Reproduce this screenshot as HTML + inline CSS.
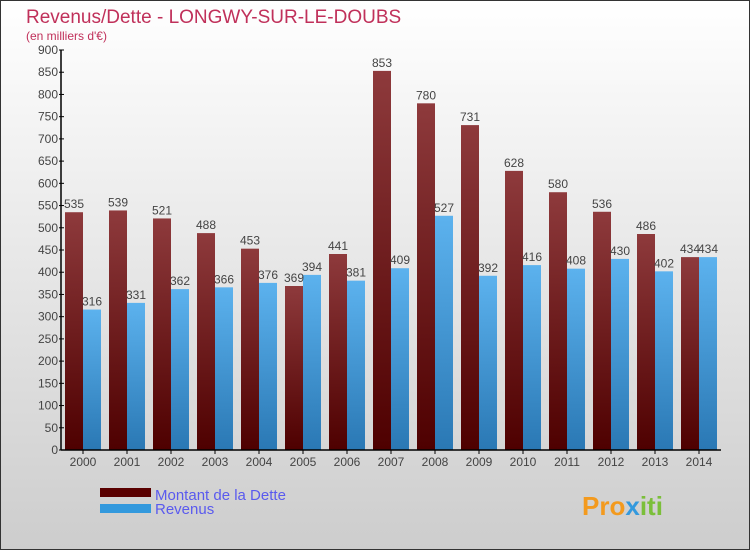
<!DOCTYPE html>
<html><head><meta charset="utf-8"><style>
body{margin:0;width:750px;height:550px;overflow:hidden;font-family:"Liberation Sans",sans-serif}
</style></head><body>
<svg id="c" width="750" height="550" xmlns="http://www.w3.org/2000/svg">
<defs>
<linearGradient id="bg" x1="0" y1="0" x2="0" y2="1"><stop offset="0" stop-color="#ffffff"/><stop offset="1" stop-color="#cdcdcd"/></linearGradient>
<linearGradient id="gd" x1="0" y1="0" x2="0" y2="1"><stop offset="0" stop-color="#8e3a3c"/><stop offset="1" stop-color="#4e0000"/></linearGradient>
<linearGradient id="gr" x1="0" y1="0" x2="0" y2="1"><stop offset="0" stop-color="#5cb2ee"/><stop offset="1" stop-color="#2a78b4"/></linearGradient>
</defs>
<rect x="0.5" y="0.5" width="749" height="549" fill="url(#bg)" stroke="#333"/>
<text x="26" y="23" font-size="19" fill="#c0305a">Revenus/Dette - LONGWY-SUR-LE-DOUBS</text>
<text x="26" y="40" font-size="12" fill="#c0305a">(en milliers d'€)</text>
<g id="plot"></g>
<g>
<rect x="100" y="488" width="51" height="9" fill="#5a0000"/>
<text x="155" y="500" font-size="15" fill="#5a5aee">Montant de la Dette</text>
<rect x="100" y="504" width="51" height="9" fill="#3399dd"/>
<text x="155" y="514" font-size="15" fill="#5a5aee">Revenus</text>
</g>
<text x="582" y="515" font-size="26" font-weight="bold" fill="#f39a1e">Pro<tspan fill="#3399dd">x</tspan><tspan fill="#7bbf3a">iti</tspan></text>
</svg>
<script>
const years=['2000','2001','2002','2003','2004','2005','2006','2007','2008','2009','2010','2011','2012','2013','2014'];
const dette=[535,539,521,488,453,369,441,853,780,731,628,580,536,486,434];
const revenus=[316,331,362,366,376,394,381,409,527,392,416,408,430,402,434];
const ticks=[0,50,100,150,200,250,300,350,400,450,500,550,600,650,700,750,800,850,900];
const NS='http://www.w3.org/2000/svg';
const g=document.getElementById('plot');
const y0=450,y1=50,vmax=900,x0=61,step=44,first=83,bw=18;
const y=v=>y0-(v/vmax)*(y0-y1);
const xc=i=>first+i*step;
function mk(t,a,txt){const e=document.createElementNS(NS,t);for(const k in a)e.setAttribute(k,a[k]);if(txt!==undefined)e.textContent=txt;g.appendChild(e);return e;}
years.forEach((yr,i)=>{
  let r=mk('rect',{x:xc(i)-bw,y:y(dette[i]),width:bw,height:y0-y(dette[i]),fill:'url(#gd)'});
  
  
  let r2=mk('rect',{x:xc(i),y:y(revenus[i]),width:bw,height:y0-y(revenus[i]),fill:'url(#gr)'});
  
  
  let t=mk('text',{x:xc(i)-bw/2,y:y(dette[i])-4,'font-size':12,fill:'#444','text-anchor':'middle'},dette[i]);
  
  
  let t2=mk('text',{x:xc(i)+bw/2,y:y(revenus[i])-4,'font-size':12,fill:'#444','text-anchor':'middle'},revenus[i]);
  
  
  let xl=mk('text',{x:xc(i),y:466,'font-size':12,fill:'#444','text-anchor':'middle'},yr);
  
  
  let tk=mk('line',{x1:xc(i),x2:xc(i),y1:y0,y2:y0+4,stroke:'#000'});
  
  
});
ticks.forEach(v=>{
  let l=mk('line',{x1:x0-2,x2:x0+3,y1:y(v),y2:y(v),stroke:'#000'});
  
  
  let t=mk('text',{x:x0-3,y:y(v)+4,'font-size':12,fill:'#444','text-anchor':'end'},v);
  
  
});
let ya=mk('line',{x1:x0,x2:x0,y1:y1,y2:y0,stroke:'#000','stroke-width':1.5});


let xa=mk('line',{x1:x0,x2:721,y1:y0,y2:y0,stroke:'#000','stroke-width':1.5});


</script>
</body></html>
